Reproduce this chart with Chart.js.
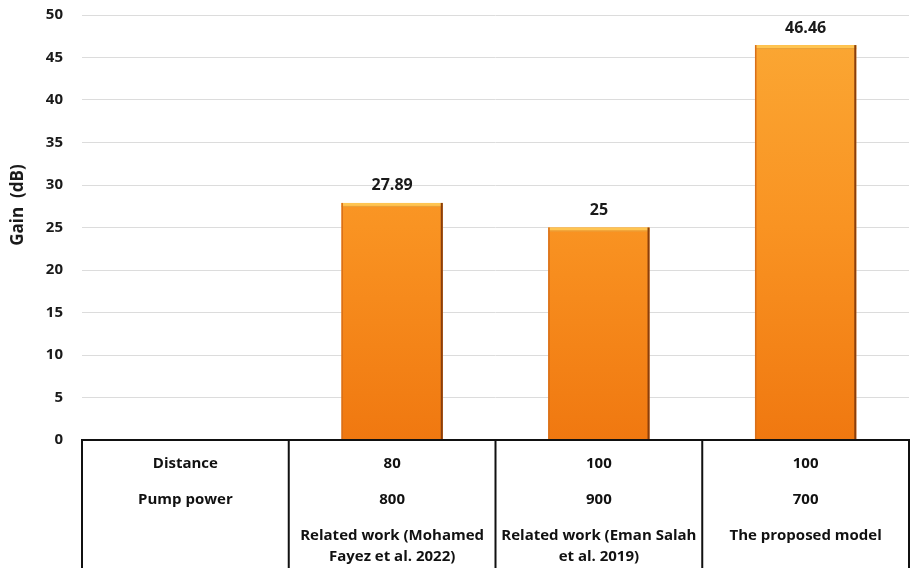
<!DOCTYPE html>
<html>
<head>
<meta charset="utf-8">
<style>
  html, body { margin: 0; padding: 0; background: #ffffff; }
  #wrap { width: 911px; height: 572px; }
</style>
<script src="https://cdn.jsdelivr.net/npm/chart.js@4"></script>
</head>
<body>
<div id="wrap"><canvas id="chart" width="911" height="572"></canvas></div>
<script>
// Categories: first column holds the row headers of the table, no bar.
const categories = ['', 'Related work (Mohamed Fayez et al. 2022)', 'Related work (Eman Salah et al. 2019)', 'The proposed model'];
const gain = [null, 27.89, 25, 46.46];
const distance = ['Distance', '80', '100', '100'];
const pumpPower = ['Pump power', '800', '900', '700'];
const workLines = [[], ['Related work (Mohamed', 'Fayez et al. 2022)'], ['Related work (Eman Salah', 'et al. 2019)'], ['The proposed model']];
const yTicks = [0, 5, 10, 15, 20, 25, 30, 35, 40, 45, 50];
const yTitle = 'Gain  (dB)';

const FONT = '"Open Sans", "Liberation Sans", sans-serif';

function barGradient(ctx) {
  const chart = ctx.chart;
  const area = chart.chartArea;
  if (!area) return '#F7931E';
  const g = chart.ctx.createLinearGradient(0, area.top, 0, area.bottom);
  g.addColorStop(0, '#FBA935');
  g.addColorStop(0.5, '#F99322');
  g.addColorStop(1, '#F07810');
  return g;
}

// Bevel edges and value labels on the bars
const barDecor = {
  id: 'barDecor',
  afterDatasetsDraw(chart) {
    const ctx = chart.ctx;
    const meta = chart.getDatasetMeta(0);
    meta.data.forEach((bar, i) => {
      const v = gain[i];
      if (v === null || v === undefined) return;
      const left = bar.x - bar.width / 2;
      const right = bar.x + bar.width / 2;
      const top = bar.y;
      const bottom = bar.base;
      ctx.save();
      // top highlight
      ctx.fillStyle = '#FFC552';
      ctx.fillRect(left, top, bar.width, 3);
      ctx.fillStyle = '#E9A03A';
      ctx.fillRect(left, top + 3, bar.width, 1);
      // left edge
      ctx.fillStyle = '#D9701A';
      ctx.fillRect(left, top, 1.5, bottom - top);
      // right edge shadow
      ctx.fillStyle = '#8A3E0C';
      ctx.fillRect(right - 2, top, 2, bottom - top);
      // value label
      ctx.fillStyle = '#1a1a1a';
      ctx.font = 'bold 16px ' + FONT;
      ctx.textAlign = 'center';
      ctx.textBaseline = 'middle';
      ctx.fillText(String(v), bar.x, top - 17);
      ctx.restore();
    });
  }
};

// Data table under the plot, columns aligned to the category scale
const dataTable = {
  id: 'dataTable',
  afterDraw(chart) {
    const ctx = chart.ctx;
    const area = chart.chartArea;
    const xs = chart.scales.x;
    const n = categories.length;
    const step = (xs.getPixelForValue(1) - xs.getPixelForValue(0));
    const edges = [];
    for (let i = 0; i <= n; i++) edges.push(xs.getPixelForValue(0) - step / 2 + i * step);
    const top = area.bottom;
    const bottom = chart.height - 4;
    ctx.save();
    ctx.strokeStyle = '#111111';
    ctx.lineWidth = 2;
    ctx.beginPath();
    ctx.moveTo(edges[0] - 1, top);
    ctx.lineTo(edges[n] + 1, top);
    edges.forEach(x => {
      ctx.moveTo(x, top);
      ctx.lineTo(x, bottom);
    });
    ctx.stroke();
    ctx.fillStyle = '#111111';
    ctx.font = 'bold 15px ' + FONT;
    ctx.textAlign = 'center';
    ctx.textBaseline = 'middle';
    for (let i = 0; i < n; i++) {
      const cx = (edges[i] + edges[i + 1]) / 2;
      ctx.fillText(distance[i], cx, top + 24);
      ctx.fillText(pumpPower[i], cx, top + 60);
      workLines[i].forEach((t, k) => ctx.fillText(t, cx, top + 96 + k * 21));
    }
    ctx.restore();
  }
};

// Rotated axis title
const axisTitle = {
  id: 'axisTitle',
  afterDraw(chart) {
    const ctx = chart.ctx;
    ctx.save();
    ctx.translate(18, 205);
    ctx.rotate(-Math.PI / 2);
    ctx.fillStyle = '#1a1a1a';
    ctx.font = 'bold 17px ' + FONT;
    ctx.textAlign = 'center';
    ctx.textBaseline = 'middle';
    ctx.fillText(yTitle, 0, 0);
    ctx.restore();
  }
};

new Chart(document.getElementById('chart'), {
  type: 'bar',
  data: {
    labels: categories,
    datasets: [{
      data: gain,
      backgroundColor: barGradient,
      borderWidth: 0,
      categoryPercentage: 1,
      barPercentage: 0.49
    }]
  },
  options: {
    responsive: false,
    animation: false,
    layout: { padding: { top: 15, right: 2, bottom: 132, left: 0 } },
    plugins: { legend: { display: false }, tooltip: { enabled: false } },
    scales: {
      x: { display: false, grid: { display: false } },
      y: {
        min: 0,
        max: 50,
        afterBuildTicks(scale) { scale.ticks = yTicks.map(v => ({ value: v })); },
        afterFit(scale) {
          scale.width = 82;
          scale.paddingTop = 0;
          scale.paddingBottom = 0;
        },
        border: { display: false },
        grid: { color: '#DCDCDC', lineWidth: 1, drawTicks: false },
        ticks: {
          padding: 19,
          color: '#1a1a1a',
          font: { family: FONT, size: 15, weight: 'bold' }
        }
      }
    }
  },
  plugins: [barDecor, dataTable, axisTitle]
});
</script>
</body>
</html>
